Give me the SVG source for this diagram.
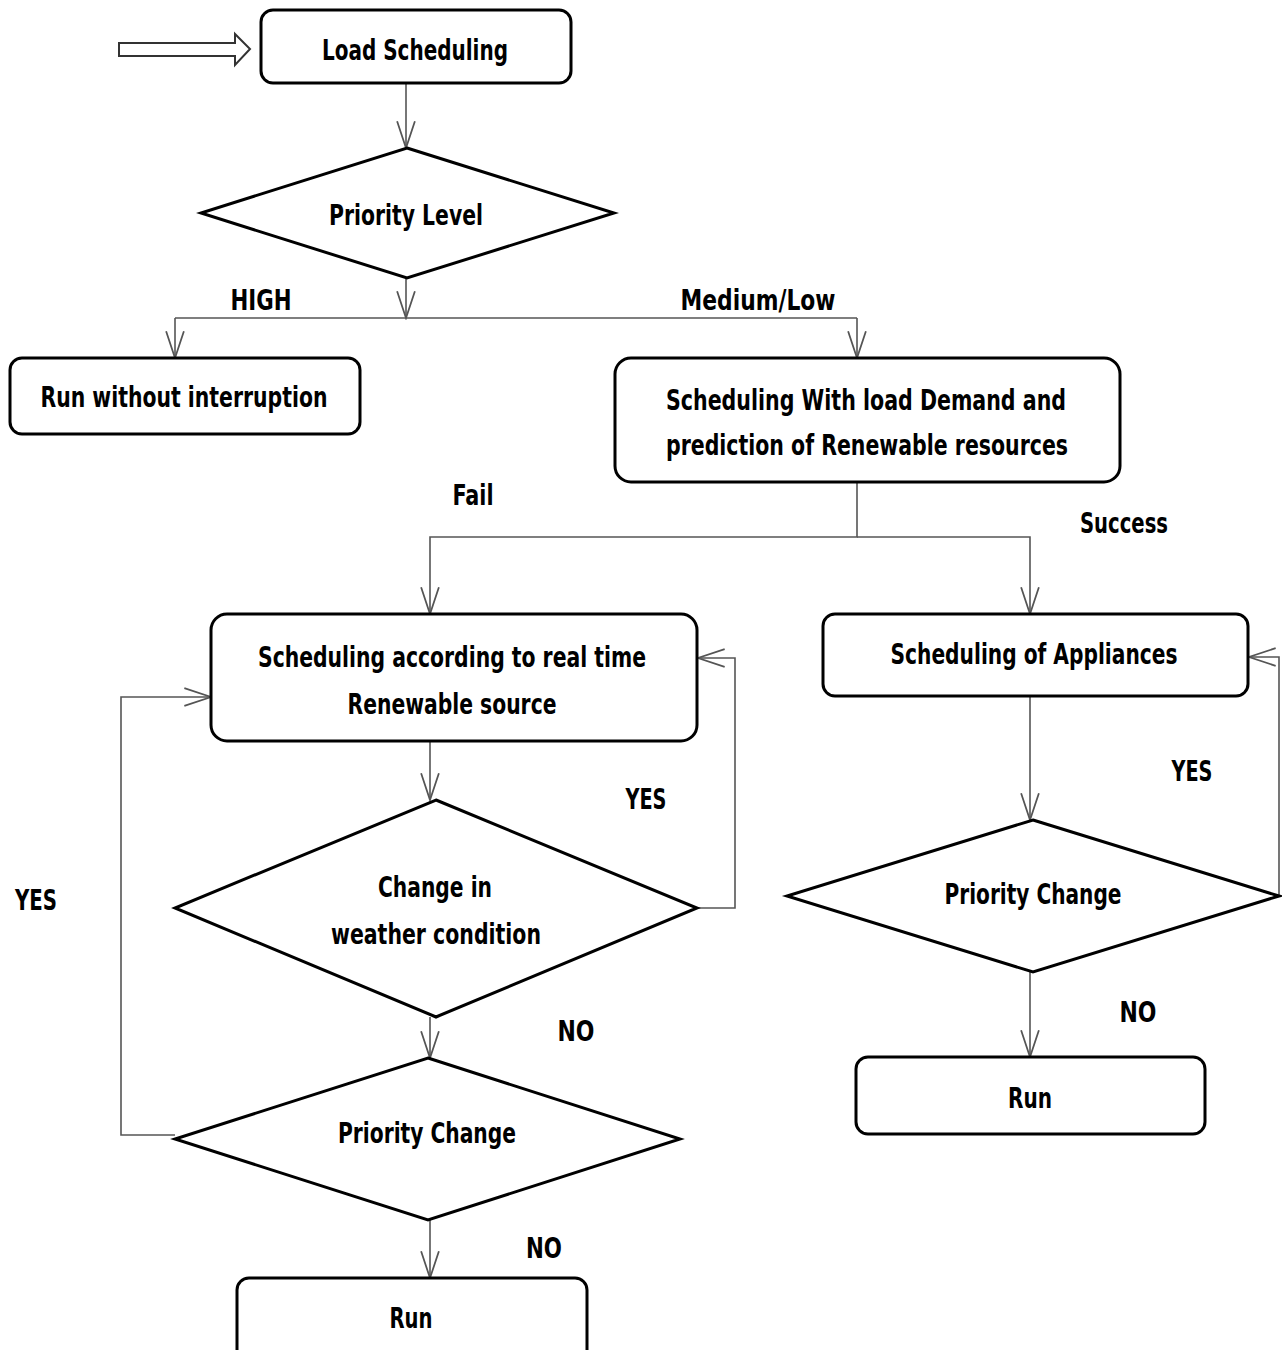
<svg xmlns="http://www.w3.org/2000/svg" width="1282" height="1350" viewBox="0 0 1282 1350">
<style>
.box{fill:#fff;stroke:#000;stroke-width:3}
.dia{fill:#fff;stroke:#000;stroke-width:3;stroke-linejoin:miter}
.con{fill:none;stroke:#555;stroke-width:1.6}
text{font-family:"DejaVu Sans Condensed","DejaVu Sans","Liberation Sans",sans-serif;font-weight:bold;font-size:28px;fill:#000;text-anchor:middle}
</style>
<defs>
<marker id="ah" markerUnits="userSpaceOnUse" markerWidth="30" markerHeight="20" viewBox="-1 -9 27 18" refX="24" refY="0" orient="auto">
<path d="M0,-8 L24,0 L0,8" fill="none" stroke="#555" stroke-width="1.6"/>
</marker>
</defs>
<rect width="1282" height="1350" fill="#fff"/>

<g id="connectors">
<path class="con" d="M406,83 V148" marker-end="url(#ah)"/>
<path class="con" d="M406,278 V318" marker-end="url(#ah)"/>
<path class="con" d="M175,318 H857"/>
<path class="con" d="M175,318 V358" marker-end="url(#ah)"/>
<path class="con" d="M857,318 V358" marker-end="url(#ah)"/>
<path class="con" d="M857,482 V537 H430 V614" marker-end="url(#ah)"/>
<path class="con" d="M857,537 H1030 V614" marker-end="url(#ah)"/>
<path class="con" d="M430,741 V800" marker-end="url(#ah)"/>
<path class="con" d="M697,908 H735 V658 H698" marker-end="url(#ah)"/>
<path class="con" d="M430,1017 V1058" marker-end="url(#ah)"/>
<path class="con" d="M175,1135 H121 V697 H211" marker-end="url(#ah)"/>
<path class="con" d="M430,1220 V1278" marker-end="url(#ah)"/>
<path class="con" d="M1030,696 V820" marker-end="url(#ah)"/>
<path class="con" d="M1279,896 V657 H1249" marker-end="url(#ah)"/>
<path class="con" d="M1030,972 V1057" marker-end="url(#ah)"/>
</g>

<g id="start-arrow">
<path d="M119,43 H235 V34 L250,49 L235,65 V56 H119 Z" fill="#fff" stroke="#333" stroke-width="2"/>
</g>

<g id="load-scheduling">
<rect class="box" x="261" y="10" width="310" height="73" rx="12"/>
<text x="415" y="60" textLength="186" lengthAdjust="spacingAndGlyphs">Load Scheduling</text>
</g>

<g id="priority-level">
<polygon class="dia" points="407,148 614,213 407,278 201,213"/>
<text x="406" y="225" textLength="154" lengthAdjust="spacingAndGlyphs">Priority Level</text>
</g>

<g id="labels">
<text x="261" y="310" textLength="61" lengthAdjust="spacingAndGlyphs">HIGH</text>
<text x="758" y="310" textLength="155" lengthAdjust="spacingAndGlyphs">Medium/Low</text>
<text x="473" y="505" textLength="41" lengthAdjust="spacingAndGlyphs">Fail</text>
<text x="1124" y="533" textLength="88" lengthAdjust="spacingAndGlyphs">Success</text>
<text x="646" y="809" textLength="41" lengthAdjust="spacingAndGlyphs">YES</text>
<text x="1192" y="781" textLength="41" lengthAdjust="spacingAndGlyphs">YES</text>
<text x="36" y="910" textLength="42" lengthAdjust="spacingAndGlyphs">YES</text>
<text x="576" y="1041" textLength="37" lengthAdjust="spacingAndGlyphs">NO</text>
<text x="1138" y="1022" textLength="37" lengthAdjust="spacingAndGlyphs">NO</text>
<text x="544" y="1258" textLength="36" lengthAdjust="spacingAndGlyphs">NO</text>
</g>

<g id="run-without-interruption">
<rect class="box" x="10" y="358" width="350" height="76" rx="12"/>
<text x="184" y="407" textLength="287" lengthAdjust="spacingAndGlyphs">Run without interruption</text>
</g>

<g id="scheduling-load-demand">
<rect class="box" x="615" y="358" width="505" height="124" rx="16"/>
<text x="866" y="410" textLength="400" lengthAdjust="spacingAndGlyphs">Scheduling With load Demand and</text>
<text x="867" y="455" textLength="402" lengthAdjust="spacingAndGlyphs">prediction of Renewable resources</text>
</g>

<g id="scheduling-real-time">
<rect class="box" x="211" y="614" width="486" height="127" rx="16"/>
<text x="452" y="667" textLength="388" lengthAdjust="spacingAndGlyphs">Scheduling according to real time</text>
<text x="452" y="714" textLength="209" lengthAdjust="spacingAndGlyphs">Renewable source</text>
</g>

<g id="scheduling-appliances">
<rect class="box" x="823" y="614" width="425" height="82" rx="12"/>
<text x="1034" y="664" textLength="287" lengthAdjust="spacingAndGlyphs">Scheduling of Appliances</text>
</g>

<g id="weather-change">
<polygon class="dia" points="436,800 697,908 436,1017 175,908"/>
<text x="435" y="897" textLength="114" lengthAdjust="spacingAndGlyphs">Change in</text>
<text x="436" y="944" textLength="210" lengthAdjust="spacingAndGlyphs">weather condition</text>
</g>

<g id="priority-change-left">
<polygon class="dia" points="428,1058 680,1139 428,1220 175,1139"/>
<text x="427" y="1143" textLength="178" lengthAdjust="spacingAndGlyphs">Priority Change</text>
</g>

<g id="run-left">
<rect class="box" x="237" y="1278" width="350" height="90" rx="12"/>
<text x="411" y="1328" textLength="43" lengthAdjust="spacingAndGlyphs">Run</text>
</g>

<g id="priority-change-right">
<polygon class="dia" points="1033,820 1279,896 1033,972 787,896"/>
<text x="1033" y="904" textLength="177" lengthAdjust="spacingAndGlyphs">Priority Change</text>
</g>

<g id="run-right">
<rect class="box" x="856" y="1057" width="349" height="77" rx="12"/>
<text x="1030" y="1108" textLength="44" lengthAdjust="spacingAndGlyphs">Run</text>
</g>
</svg>
